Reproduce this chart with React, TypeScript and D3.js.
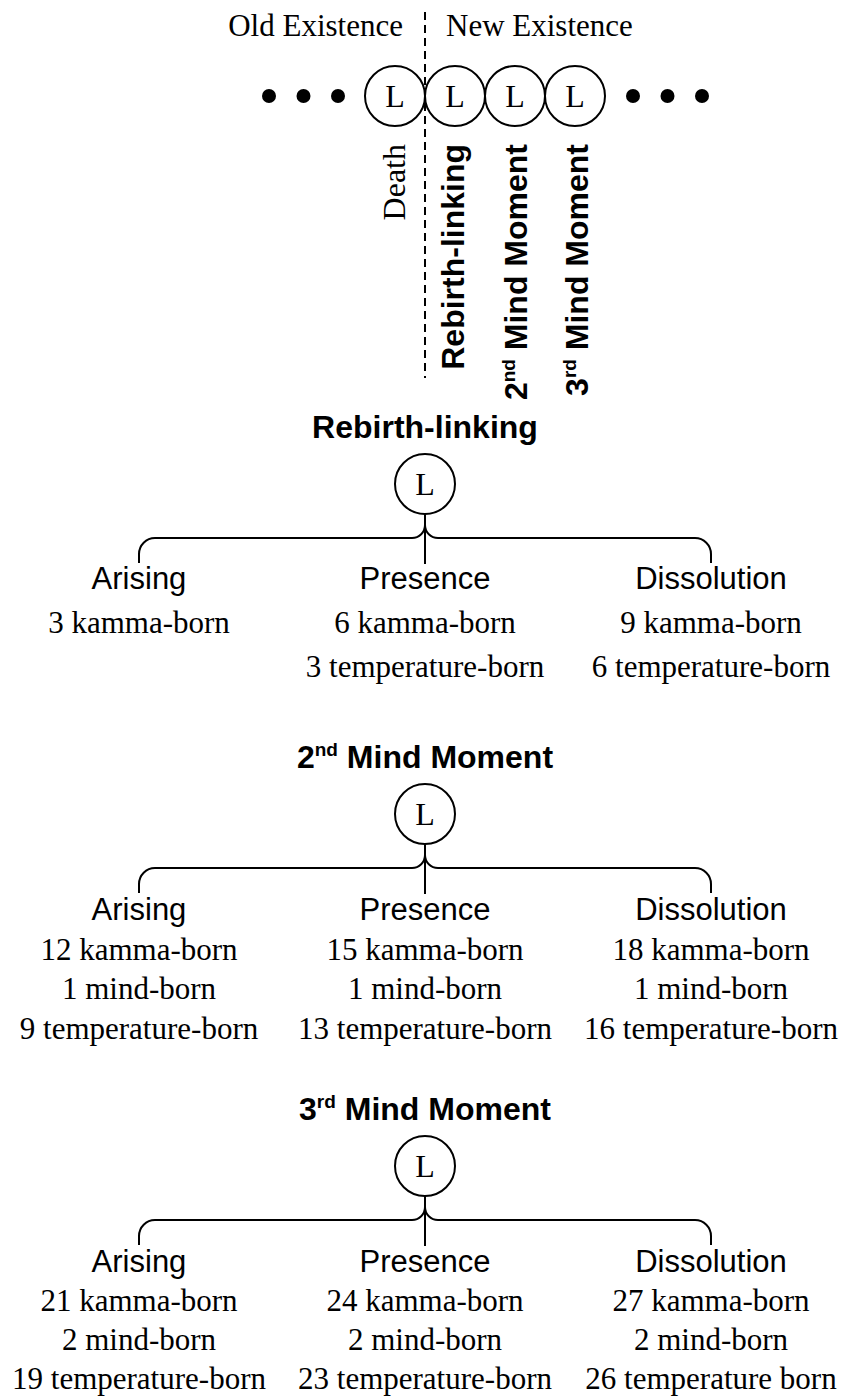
import React from "react";
import * as d3 from "d3";

// ---------- data ----------
const existenceLabels = ["Old Existence", "New Existence"];
const sequenceLabels = ["Death", "Rebirth-linking", "2nd Mind Moment", "3rd Mind Moment"];
const sequenceBold = [false, true, true, true];
const leftDots = [0, 1, 2];
const rightDots = [0, 1, 2];
const moments = ["Rebirth-linking", "2nd Mind Moment", "3rd Mind Moment"];
const phases = ["Arising", "Presence", "Dissolution"];
const kammaBorn: (number | null)[][] = [
  [3, 6, 9],
  [12, 15, 18],
  [21, 24, 27],
];
const mindBorn: (number | null)[][] = [
  [null, null, null],
  [1, 1, 1],
  [2, 2, 2],
];
const temperatureBorn: (number | null)[][] = [
  [null, 3, 6],
  [9, 13, 16],
  [19, 23, 26],
];
const temperatureWord: string[][] = [
  ["temperature-born", "temperature-born", "temperature-born"],
  ["temperature-born", "temperature-born", "temperature-born"],
  ["temperature-born", "temperature-born", "temperature born"],
];

// ---------- layout ----------
const W = 843;
const H = 1398;
const SERIF = "'Liberation Serif', 'Times New Roman', serif";
const SANS = "'Liberation Sans', Arial, sans-serif";
const R = 30;
const SERIF_SIZE = 31;
const SANS_SIZE = 31;
const BOLD_SIZE = 32;

// renders "2nd Mind Moment" with superscript
function labelSpans(label: string, supSize: number, lift: number) {
  const m = label.match(/^(\d)(st|nd|rd|th)(.*)$/);
  if (!m) return label;
  return (
    <>
      <tspan>{m[1]}</tspan>
      <tspan fontSize={supSize} dy={-lift}>{m[2]}</tspan>
      <tspan dy={lift}>{m[3]}</tspan>
    </>
  );
}

export default function App() {
  // top sequence
  const seqX = d3.scaleLinear().domain([0, 1]).range([395, 455]);
  const seqY = 96;
  const leftDotX = d3.scaleLinear().domain([0, 2]).range([269, 338]);
  const rightDotX = d3.scaleLinear().domain([0, 2]).range([633, 702]);
  const dividerX = (seqX(0) + seqX(1)) / 2;
  const labelBaseX = [405, 464, 527, 588];

  // sections
  const colX = d3.scalePoint<string>().domain(phases).range([139, 711]).padding(0);
  const titleY = d3.scaleOrdinal<string, number>().domain(moments).range([438, 768, 1120]);
  const labelY = d3.scaleOrdinal<string, number>().domain(moments).range([589, 920, 1272]);
  const lineGap = d3.scaleOrdinal<string, number>().domain(moments).range([44, 39.5, 39]);
  const xc = colX("Presence")!;
  const xl = colX("Arising")!;
  const xr = colX("Dissolution")!;

  const bracePath = (B: number) => {
    const r = 16;
    const r2 = 13;
    const p = d3.path();
    p.moveTo(xl, B + 25);
    p.lineTo(xl, B + r);
    p.arcTo(xl, B, xl + r, B, r);
    p.lineTo(xc - r2, B);
    p.arcTo(xc, B, xc, B - r2, r2);
    p.moveTo(xc, B - r2);
    p.arcTo(xc, B, xc + r2, B, r2);
    p.lineTo(xr - r, B);
    p.arcTo(xr, B, xr, B + r, r);
    p.lineTo(xr, B + 25);
    return p.toString();
  };

  return (
    <svg
      width={W}
      height={H}
      viewBox={`0 0 ${W} ${H}`}
      style={{ position: "absolute", left: 0, top: 0, display: "block", background: "#fff" }}
    >
      <rect x={0} y={0} width={W} height={H} fill="#fff" />
      {/* header */}
      <text x={dividerX - 22} y={36} fontFamily={SERIF} fontSize={SERIF_SIZE} textAnchor="end" fill="#000">
        {existenceLabels[0]}
      </text>
      <text x={dividerX + 21} y={36} fontFamily={SERIF} fontSize={SERIF_SIZE} textAnchor="start" fill="#000">
        {existenceLabels[1]}
      </text>
      <line x1={dividerX} x2={dividerX} y1={12} y2={378} stroke="#000" strokeWidth={2} strokeDasharray="8,5" />

      {leftDots.map((d) => (
        <circle key={"ld" + d} cx={leftDotX(d)} cy={seqY} r={7} fill="#000" />
      ))}
      {rightDots.map((d) => (
        <circle key={"rd" + d} cx={rightDotX(d)} cy={seqY} r={7} fill="#000" />
      ))}
      {sequenceLabels.map((lab, i) => (
        <g key={"seq" + i}>
          <circle cx={seqX(i)} cy={seqY} r={R} fill="none" stroke="#000" strokeWidth={2} />
          <text x={seqX(i)} y={seqY + 11} fontFamily={SERIF} fontSize={32} textAnchor="middle" fill="#000">
            L
          </text>
          <text
            transform={`translate(${labelBaseX[i]},144) rotate(-90)`}
            fontFamily={sequenceBold[i] ? SANS : SERIF}
            fontWeight={sequenceBold[i] ? "bold" : "normal"}
            fontSize={sequenceBold[i] ? BOLD_SIZE : 32}
            textAnchor="end"
            fill="#000"
          >
            {labelSpans(lab, 19, 12)}
          </text>
        </g>
      ))}

      {/* sections */}
      {moments.map((m, si) => {
        const T = titleY(m);
        const C = T + 46;
        const B = T + 100;
        const L0 = labelY(m);
        const gap = lineGap(m);
        return (
          <g key={"sec" + si}>
            <text x={xc} y={T} fontFamily={SANS} fontWeight="bold" fontSize={BOLD_SIZE} textAnchor="middle" fill="#000">
              {labelSpans(m, 19, 12)}
            </text>
            <circle cx={xc} cy={C} r={R} fill="none" stroke="#000" strokeWidth={2} />
            <text x={xc} y={C + 11} fontFamily={SERIF} fontSize={32} textAnchor="middle" fill="#000">
              L
            </text>
            <line x1={xc} x2={xc} y1={C + R} y2={B + 26} stroke="#000" strokeWidth={2} />
            <path d={bracePath(B)} fill="none" stroke="#000" strokeWidth={2} />
            {phases.map((ph, pi) => {
              const lines: string[] = [];
              const k = kammaBorn[si][pi];
              const mb = mindBorn[si][pi];
              const t = temperatureBorn[si][pi];
              if (k != null) lines.push(`${k} kamma-born`);
              if (mb != null) lines.push(`${mb} mind-born`);
              if (t != null) lines.push(`${t} ${temperatureWord[si][pi]}`);
              return (
                <g key={"ph" + pi}>
                  <text x={colX(ph)} y={L0} fontFamily={SANS} fontSize={SANS_SIZE} textAnchor="middle" fill="#000">
                    {ph}
                  </text>
                  {lines.map((ln, li) => (
                    <text
                      key={li}
                      x={colX(ph)}
                      y={L0 + gap * (li + 1)}
                      fontFamily={SERIF}
                      fontSize={SERIF_SIZE}
                      textAnchor="middle"
                      fill="#000"
                    >
                      {ln}
                    </text>
                  ))}
                </g>
              );
            })}
          </g>
        );
      })}
    </svg>
  );
}
